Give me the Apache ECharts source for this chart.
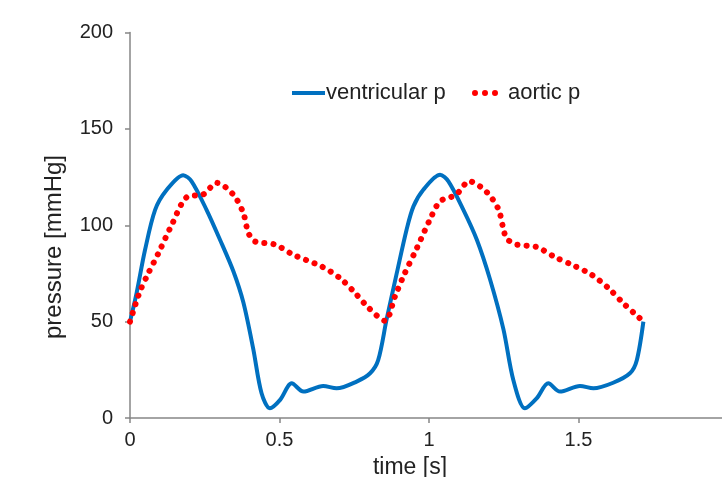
<!DOCTYPE html>
<html>
<head>
<meta charset="utf-8">
<script src="https://cdn.jsdelivr.net/npm/echarts@6/dist/echarts.min.js"></script>
<style>
  html, body { margin: 0; padding: 0; background: #fff; }
  #chart { width: 722px; height: 477px; }
</style>
</head>
<body>
<div id="chart"></div>
<script>
// time [s] and pressure [mmHg]
var ventricularT = [0, 0.022, 0.05, 0.084, 0.123, 0.178, 0.206, 0.256, 0.301, 0.346, 0.379, 0.412, 0.44, 0.468, 0.502, 0.541, 0.58, 0.646, 0.691, 0.758, 0.803, 0.83, 0.858,
                    0.892, 0.925, 0.948, 0.981, 1.037, 1.065, 1.115, 1.16, 1.204, 1.249, 1.282, 1.321, 1.36, 1.399, 1.438, 1.505, 1.55, 1.616, 1.672, 1.695, 1.717];
var ventricularP = [50, 64.8, 87, 108, 118.4, 126, 122.8, 108, 92.5, 76, 60, 36, 12.8, 5, 9.4, 18, 13.7, 16.6, 15.4, 18.9, 23.2, 30, 51,
                    75, 97.7, 109.8, 118.4, 126.2, 122.8, 108, 92.5, 72, 46, 19.7, 5, 10.2, 18, 13.7, 16.6, 15.4, 18.3, 23.2, 30, 50];
var aorticT = [0, 0.033, 0.061, 0.095, 0.139, 0.19, 0.245, 0.29, 0.346, 0.379, 0.396, 0.418, 0.485, 0.546, 0.641, 0.702, 0.752, 0.797, 0.853,
               0.886, 0.914, 0.959, 1.003, 1.037, 1.09, 1.135, 1.193, 1.232, 1.249, 1.26, 1.293, 1.36, 1.421, 1.485, 1.544, 1.6, 1.65, 1.703, 1.717];
var aorticP = [50, 65.6, 75, 85.5, 100, 114.6, 116, 122, 115.8, 106.3, 96, 91.6, 90, 84.7, 78.6, 72.6, 65, 57.3, 50.4,
               63, 73.4, 88, 102.9, 112.4, 115.8, 122.8, 117.2, 108.4, 98, 93, 90, 88.7, 83.5, 79, 74.3, 67.4, 59.5, 52, 50];
var xTicks = [0, 0.5, 1, 1.5, 2];
var yTicks = [0, 50, 100, 150, 200];

function pairs(xs, ys) {
  var out = [];
  for (var i = 0; i < xs.length; i++) out.push([xs[i], ys[i]]);
  return out;
}

var chart = echarts.init(document.getElementById('chart'));
var font = 'Liberation Sans, Arial, sans-serif';
var axisGray = '#868686';
var dotsIcon = 'path://M0,3a3,3 0 1,0 6,0a3,3 0 1,0 -6,0zM10,3a3,3 0 1,0 6,0a3,3 0 1,0 -6,0zM20,3a3,3 0 1,0 6,0a3,3 0 1,0 -6,0z';

chart.setOption({
  animation: false,
  grid: { left: 130, top: 32.5, right: -6, bottom: 59, containLabel: false, outerBoundsMode: 'none' },
  legend: [{
    left: 287, top: 77,
    data: [{ name: 'ventricular p', icon: 'rect' }],
    itemWidth: 33, itemHeight: 4, itemGap: 0,
    textStyle: { fontFamily: font, fontSize: 22, color: '#222', padding: [0, 0, 0, -4] }
  }, {
    left: 467, top: 77,
    data: [{ name: 'aortic p', icon: dotsIcon }],
    itemWidth: 26, itemHeight: 6,
    textStyle: { fontFamily: font, fontSize: 22, color: '#222', padding: [0, 0, 0, 5] }
  }],
  xAxis: {
    type: 'value', min: xTicks[0], max: xTicks[xTicks.length - 1], interval: 0.5,
    axisLine: { lineStyle: { color: axisGray, width: 1.5 } },
    axisTick: { show: true, length: 5, lineStyle: { color: axisGray, width: 1.5 } },
    axisLabel: { fontFamily: font, fontSize: 20, color: '#222', margin: 12, showMaxLabel: false },
    splitLine: { show: false }
  },
  yAxis: {
    type: 'value', min: yTicks[0], max: yTicks[yTicks.length - 1], interval: 50,
    axisLine: { show: true, lineStyle: { color: axisGray, width: 1.5 } },
    axisTick: { show: true, length: 5, lineStyle: { color: axisGray, width: 1.5 } },
    axisLabel: { fontFamily: font, fontSize: 20, color: '#222', margin: 17 },
    splitLine: { show: false }
  },
  graphic: [{
    type: 'text', x: 410, y: 468,
    style: { text: 'time [s]', fontFamily: font, fontSize: 23, fill: '#222', align: 'center', verticalAlign: 'middle' }
  }, {
    type: 'text', x: 54, y: 247, rotation: Math.PI / 2,
    style: { text: 'pressure [mmHg]', fontFamily: font, fontSize: 24, fill: '#222', align: 'center', verticalAlign: 'middle' }
  }],
  series: [{
    name: 'ventricular p', type: 'line', smooth: 0.3, symbol: 'none',
    data: pairs(ventricularT, ventricularP),
    lineStyle: { color: '#0070C0', width: 4 },
    itemStyle: { color: '#0070C0' }
  }, {
    name: 'aortic p', type: 'line', smooth: 0.3, symbol: 'none',
    data: pairs(aorticT, aorticP),
    lineStyle: { color: '#FF0000', width: 6, type: [0.1, 9], cap: 'round' },
    itemStyle: { color: '#FF0000' }
  }]
});
</script>
</body>
</html>
